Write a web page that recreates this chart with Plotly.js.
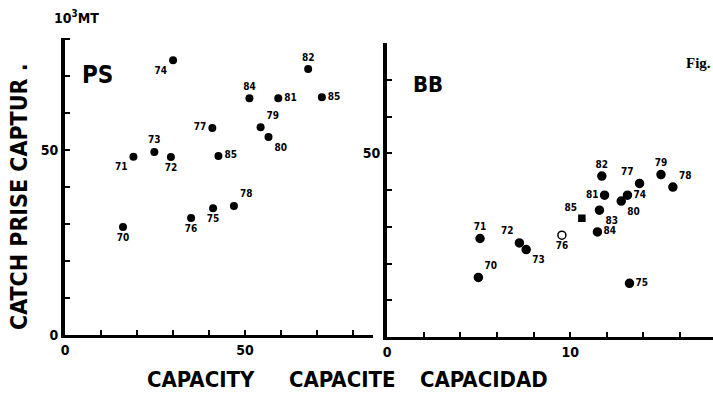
<!DOCTYPE html>
<html>
<head>
<meta charset="utf-8">
<script src="https://cdn.plot.ly/plotly-3.0.1.min.js"></script>
<style>html,body{margin:0;padding:0;background:#fff;}#chart{width:713px;height:395px;}</style>
</head>
<body>
<div id="chart"></div>
<script>
// PS panel
var psYear     = ['74','82','84','81','85','79','77','80','73','72','71','85','70','76','75','78'];
var psCapacity = [30.0, 67.5, 51.2, 59.2, 71.3, 54.3, 40.9, 56.5, 24.8, 29.4, 19.0, 42.6, 16.1, 35.0, 41.1, 46.9];
var psCatch    = [74.3, 71.9, 64.0, 64.0, 64.3, 56.2, 56.0, 53.5, 49.5, 48.1, 48.2, 48.4, 29.2, 31.6, 34.3, 34.9];
// BB panel
var bbYear     = ['82','79','77','78','81','74','80','83','85','84','76','71','72','73','70','75'];
var bbCapacity = [11.73, 14.96, 13.79, 15.61, 11.88, 13.13, 12.79, 11.60, 10.64, 11.49, 9.55, 5.08, 7.23, 7.60, 4.99, 13.24];
var bbCatch    = [43.8, 44.2, 41.8, 40.8, 38.6, 38.6, 37.0, 34.5, 32.3, 28.6, 27.7, 26.8, 25.6, 23.8, 16.2, 14.6];
// tick labels
var psXTicks = [0, 50];
var bbXTicks = [0, 10];
var psYTicks = [0, 50];
var bbYTicks = [50];

var condFont = 'DejaVu Sans Condensed, sans-serif';
var labelFont = {family: condFont, size: 10, color: '#000', weight: 'bold'};

var psPos = ['bottom left','top center','top center','middle right','middle right','top right','middle left','bottom right',
             'top center','bottom center','bottom left','middle right','bottom center','bottom center','bottom center','top right'];
var bbPos = ['top center','top center','top left','top right','middle left','middle right','bottom right','bottom right',
             'top left','middle right','bottom center','top center','top left','bottom right','top right','middle right'];
var bbSym = bbYear.map(function(y){ return y === '76' ? 'circle-open' : (y === '85' ? 'square' : 'circle'); });
var bbSize = bbYear.map(function(y){ return y === '85' ? 6 : 8; });

var traces = [
  {x: psCapacity, y: psCatch, text: psYear, mode: 'markers+text', type: 'scatter',
   textposition: psPos, textfont: labelFont, cliponaxis: false,
   marker: {color: '#000', size: 8, opacity: 1}, xaxis: 'x', yaxis: 'y', hoverinfo: 'none'},
  {x: bbCapacity, y: bbCatch, text: bbYear, mode: 'markers+text', type: 'scatter',
   textposition: bbPos, textfont: labelFont, cliponaxis: false,
   marker: {color: '#000', size: bbSize, symbol: bbSym, opacity: 1, line: {color: '#000', width: 1.5}},
   xaxis: 'x2', yaxis: 'y2', hoverinfo: 'none'}
];

function tickArr(max, step, labelled) {
  var v = [], t = [];
  for (var i = 0; i <= max + 1e-9; i += step) { v.push(i); t.push(labelled.indexOf(i) >= 0 ? String(i) : ''); }
  return {v: v, t: t};
}
var psX = tickArr(80, 10, psXTicks), bbX = tickArr(16, 2, bbXTicks);
var psY = tickArr(80, 10, psYTicks), bbY = tickArr(80, 10, bbYTicks);

var axFont = {family: condFont, size: 14, color: '#000', weight: 'bold'};
var common = {showgrid: false, zeroline: false, showline: true, linecolor: '#000', ticks: 'inside',
              ticklen: 5, tickwidth: 2, tickcolor: '#000', tickfont: axFont, fixedrange: true};

function ann(text, x, y, size, extra) {
  var a = {text: text, xref: 'paper', yref: 'paper', x: x / 713, y: 1 - y / 395, xanchor: 'center', yanchor: 'middle',
           showarrow: false, font: {family: condFont, size: size, color: '#000', weight: 'bold'}};
  return Object.assign(a, extra || {});
}

var layout = {
  width: 713, height: 395, margin: {l: 0, r: 0, t: 0, b: 0},
  paper_bgcolor: '#fff', plot_bgcolor: 'rgba(0,0,0,0)', showlegend: false,
  xaxis: Object.assign({}, common, {domain: [65/713, 373/713], range: [0, 85.5], linewidth: 3,
         tickvals: psX.v, ticktext: psX.t, anchor: 'y'}),
  yaxis: Object.assign({}, common, {domain: [60/395, 357/395], range: [0, 80.3], linewidth: 4,
         tickvals: psY.v, ticktext: psY.t, anchor: 'x'}),
  xaxis2: Object.assign({}, common, {domain: [387/713, 1], range: [0, 17.8], linewidth: 3,
         tickvals: bbX.v, ticktext: bbX.t, anchor: 'y2'}),
  yaxis2: Object.assign({}, common, {domain: [58/395, 352/395], range: [0, 80], linewidth: 4,
         tickvals: bbY.v, ticktext: bbY.t, anchor: 'x2'}),
  annotations: [
    ann('CATCH PRISE CAPTUR .', 19, 197, 23, {textangle: -90}),
    ann('CAPACITY', 201, 379, 22),
    ann('CAPACITE', 342, 379, 22),
    ann('CAPACIDAD', 484, 379, 22),
    ann('10<sup>3</sup>MT', 76, 17, 14),
    ann('PS', 97, 75, 24),
    ann('BB', 428, 84, 22),
    ann('Fig.', 698, 63, 15, {font: {family: 'Liberation Serif, serif', size: 15, color: '#000', weight: 'bold'}})
  ]
};

Plotly.newPlot('chart', traces, layout, {staticPlot: true, displayModeBar: false});
</script>
</body>
</html>
